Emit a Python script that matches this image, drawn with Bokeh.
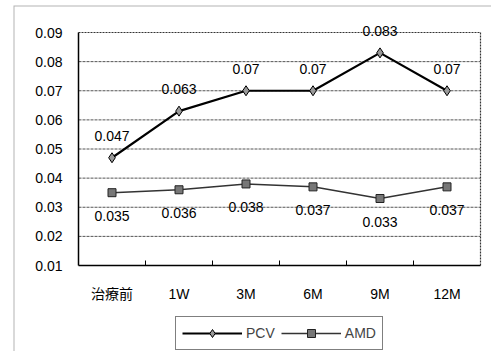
from bokeh.plotting import figure
from bokeh.models import (FixedTicker, NumeralTickFormatter, Legend, LegendItem,
                          ColumnDataSource, Range1d, LabelSet, BoxAnnotation)
from bokeh.core.properties import value
from bokeh.embed import file_html
from bokeh.resources import INLINE

categories = ["治療前", "1W", "3M", "6M", "9M", "12M"]
pcv = [0.047, 0.063, 0.07, 0.07, 0.083, 0.07]
amd = [0.035, 0.036, 0.038, 0.037, 0.033, 0.037]
y_ticks = [0.01, 0.02, 0.03, 0.04, 0.05, 0.06, 0.07, 0.08, 0.09]
y_min, y_max = 0.01, 0.09

xs = [i + 0.5 for i in range(len(categories))]
FONT = "'Liberation Sans', 'Noto Sans CJK JP', sans-serif"

# frame covers the whole chart box; plot area (0..6, 0.01..0.09) sits inside it
n = len(categories)
px_per_x = 67.0
px_per_y = 2912.5
p = figure(width=491, height=351, output_backend="svg", toolbar_location=None,
           x_range=Range1d(0 - 65 / px_per_x, n + 11 / px_per_x),
           y_range=Range1d(y_min - 86 / px_per_y, y_max + 27 / px_per_y),
           min_border_left=13, min_border_right=0, min_border_top=5,
           min_border_bottom=0)
p.background_fill_color = "white"
p.border_fill_color = "white"
p.outline_line_color = None
p.xgrid.visible = False
p.ygrid.visible = False

# gridlines limited to the plot area (dashed), plus dotted top/right edges
grid_y = y_ticks[1:-1]
p.segment(x0=[0] * len(grid_y), x1=[n] * len(grid_y), y0=grid_y, y1=grid_y,
          line_color="#555555", line_dash="3 1", line_width=1, level="underlay")
p.segment(x0=[0, n], x1=[n, n], y0=[y_max, y_min], y1=[y_max, y_max],
          line_color="#333333", line_dash="2 1", line_width=1.2, level="underlay")

# x axis, drawn at y = 0.01
p.xaxis.fixed_location = y_min
p.xaxis.bounds = (0, n)
p.xaxis.ticker = FixedTicker(ticks=xs, minor_ticks=list(range(1, n)))
p.xaxis.major_label_overrides = {x: c for x, c in zip(xs, categories)}
p.xaxis.major_tick_line_color = None
p.xaxis.major_tick_out = 0
p.xaxis.major_tick_in = 0
p.xaxis.minor_tick_in = 5
p.xaxis.minor_tick_out = 0
p.xaxis.minor_tick_line_color = "black"
p.xaxis.axis_line_color = "black"
p.xaxis.axis_line_width = 1.5
p.xaxis.major_label_standoff = 20
p.xaxis.major_label_text_font = FONT
p.xaxis.major_label_text_font_size = "14px"
p.xaxis.major_label_text_color = "black"

# y axis, drawn at x = 0
p.yaxis.fixed_location = 0
p.yaxis.bounds = (y_min, y_max)
p.yaxis.ticker = FixedTicker(ticks=y_ticks)
p.yaxis.formatter = NumeralTickFormatter(format="0.00")
p.yaxis.major_tick_line_color = None
p.yaxis.major_tick_out = 0
p.yaxis.major_tick_in = 0
p.yaxis.minor_tick_line_color = None
p.yaxis.axis_line_color = "black"
p.yaxis.axis_line_width = 1.5
p.yaxis.major_label_standoff = 16
p.yaxis.major_label_text_font = FONT
p.yaxis.major_label_text_font_size = "14px"
p.yaxis.major_label_text_color = "black"

# outer chart border (left and top edges visible)
p.add_layout(BoxAnnotation(left=13, right=600, top=5, bottom=600,
                           left_units="canvas", right_units="canvas",
                           top_units="canvas", bottom_units="canvas",
                           fill_alpha=0, line_color="black", line_width=2,
                           level="overlay"))

src = ColumnDataSource(dict(x=xs, pcv=pcv, amd=amd,
                            pcv_t=[f"{v:g}" for v in pcv],
                            amd_t=[f"{v:g}" for v in amd]))

l1 = p.line("x", "pcv", source=src, line_color="black", line_width=2.2)
m1 = p.scatter("x", "pcv", source=src, marker="diamond", size=10,
               fill_color="#999999", line_color="black", line_width=1)
l2 = p.line("x", "amd", source=src, line_color="#333333", line_width=1.5)
m2 = p.scatter("x", "amd", source=src, marker="square", size=8,
               fill_color="#777777", line_color="#222222", line_width=1)

p.add_layout(LabelSet(x="x", y="pcv", text="pcv_t", source=src, y_offset=22,
                      text_align="center", text_baseline="middle",
                      text_font_size="14px", text_color="black",
                      text_font=value("Liberation Sans"), level="overlay"))
p.add_layout(LabelSet(x="x", y="amd", text="amd_t", source=src, y_offset=-23,
                      text_align="center", text_baseline="middle",
                      text_font_size="14px", text_color="black",
                      text_font=value("Liberation Sans"), level="overlay"))

legend = Legend(items=[LegendItem(label="PCV", renderers=[l1, m1]),
                       LegendItem(label="AMD", renderers=[l2, m2])],
                orientation="horizontal", location=(162, 1),
                glyph_width=60, glyph_height=20, label_standoff=4,
                spacing=6, padding=6, margin=0,
                border_line_color="black", border_line_width=1,
                label_text_font=FONT, label_text_font_size="14px",
                background_fill_alpha=1)
p.add_layout(legend, "center")

open("out.html", "w").write(file_html(p, INLINE))
